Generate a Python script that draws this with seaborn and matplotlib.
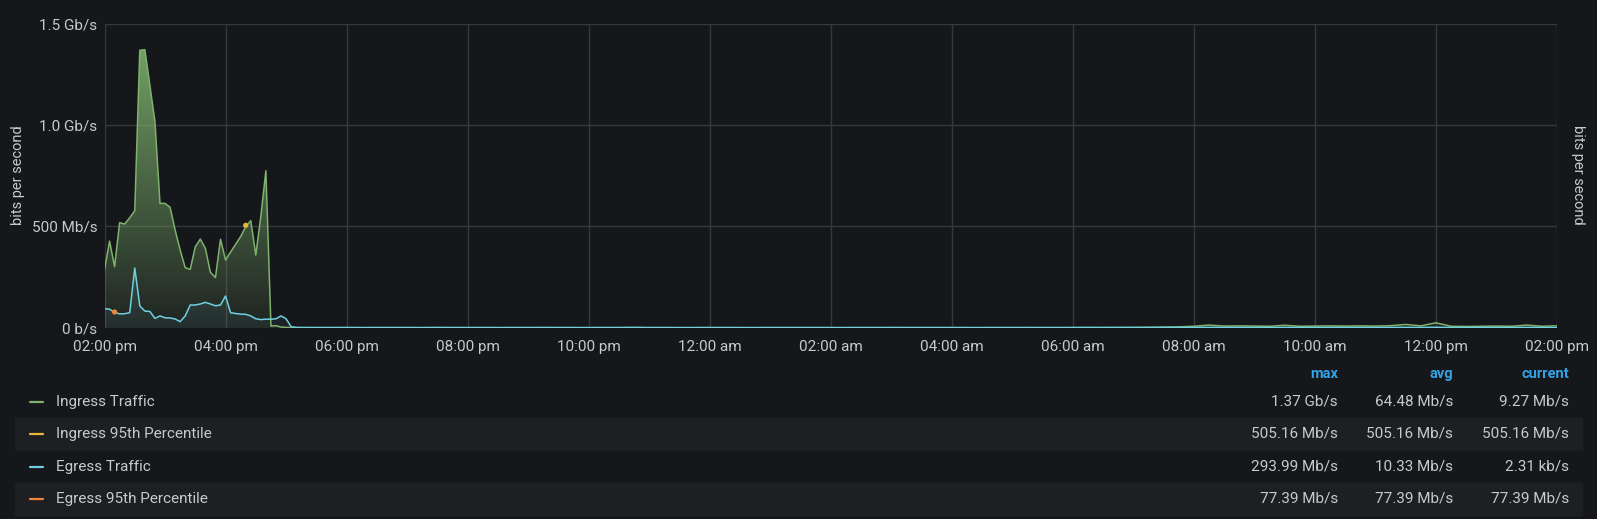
import numpy as np
import pandas as pd
import matplotlib
matplotlib.use("Agg")
import matplotlib.pyplot as plt
from matplotlib.patches import Rectangle
from matplotlib.lines import Line2D
import seaborn as sns

# --- data (Mb/s), first 3h15 sampled every 5 min, rest every 15 min ---
head_minutes = np.arange(0, 200, 5)
ingress_head = [284, 427, 301, 518, 511, 542, 577, 1368, 1371, 1195,
                1016, 613, 613, 594, 482, 383, 296, 288, 399, 437,
                391, 273, 247, 436, 334, 373, 411, 450, 498, 528,
                358, 550, 774, 8, 10, 3, 1.5, 1, 0.8, 0.6]
egress_head = [94, 91, 76, 68, 69, 74, 294, 107, 82, 80,
               46, 58, 49, 48, 43, 30, 58, 112, 112, 117,
               125, 117, 108, 112, 156, 74, 70, 67, 66, 58,
               44, 40, 42, 42, 44, 58, 44, 5, 1, 0.6]

tail_minutes = np.arange(210, 1441, 15)
ingress_tail = [0.6, 0.5, 0.8, 0.4, 0.6, 0.7, 0.5, 0.4, 0.9, 0.6,
                0.5, 0.7, 0.4, 0.6, 0.5, 0.8, 0.6, 0.5, 0.4, 0.7,
                0.6, 1.5, 0.5, 0.6, 0.4, 0.5, 0.7, 0.6, 0.5, 0.4,
                0.6, 0.5, 0.6, 0.7, 0.5, 0.4, 0.6, 0.5, 0.8, 0.6,
                0.5, 0.7, 0.6, 0.5, 0.4, 0.6, 0.5, 0.7, 0.6, 0.5,
                0.8, 1.0, 0.9, 1.2, 1.5, 2.0, 3.0,
                4, 7, 13, 8, 9, 8, 7, 12, 7, 8,
                9, 8, 9, 8, 10, 16, 9, 24, 7, 6,
                7, 8, 7, 13, 7, 9.27]
egress_tail = [0.4, 0.3, 0.5, 0.3, 0.4, 0.3, 0.4, 0.3, 0.5, 0.4,
               0.3, 0.4, 0.3, 0.4, 0.3, 0.5, 0.4, 0.3, 0.3, 0.4,
               0.4, 0.6, 0.3, 0.4, 0.3, 0.3, 0.4, 0.4, 0.3, 0.3,
               0.4, 0.3, 0.4, 0.4, 0.3, 0.3, 0.4, 0.3, 0.5, 0.4,
               0.3, 0.4, 0.4, 0.3, 0.3, 0.4, 0.3, 0.4, 0.4, 0.3,
               0.5, 0.6, 0.5, 0.6, 0.7, 0.8, 1.0,
               1.2, 1.5, 1.8, 1.4, 1.5, 1.3, 1.2, 1.6, 1.2, 1.3,
               1.4, 1.3, 1.4, 1.3, 1.5, 1.8, 1.4, 2.0, 1.2, 1.1,
               1.2, 1.3, 1.2, 1.6, 1.2, 0.0023]

# 95th percentile series only have a single sample each
ingress_p95_minute, ingress_p95 = [140], [505.16]
egress_p95_minute, egress_p95 = [10], [77.39]

x_ticks = list(range(0, 1441, 120))
x_labels = ["02:00 pm", "04:00 pm", "06:00 pm", "08:00 pm", "10:00 pm", "12:00 am",
            "02:00 am", "04:00 am", "06:00 am", "08:00 am", "10:00 am", "12:00 pm", "02:00 pm"]
y_ticks = [0, 500, 1000, 1500]
y_labels = ["0 b/s", "500 Mb/s", "1.0 Gb/s", "1.5 Gb/s"]

series_names = ["Ingress Traffic", "Ingress 95th Percentile", "Egress Traffic", "Egress 95th Percentile"]
series_colors = ["#7eb26d", "#eab839", "#6ed0e0", "#ef843c"]
stat_max = ["1.37 Gb/s", "505.16 Mb/s", "293.99 Mb/s", "77.39 Mb/s"]
stat_avg = ["64.48 Mb/s", "505.16 Mb/s", "10.33 Mb/s", "77.39 Mb/s"]
stat_cur = ["9.27 Mb/s", "505.16 Mb/s", "2.31 kb/s", "77.39 Mb/s"]

BG = "#16171b"
TXT = "#c7c9cc"
GRID = "#37383c"

sns.set_theme(style="dark", rc={"figure.facecolor": BG, "axes.facecolor": BG,
                                "axes.edgecolor": BG, "text.color": TXT,
                                "xtick.color": TXT, "ytick.color": TXT})
plt.rcParams["font.family"] = ["Roboto", "DejaVu Sans"]

minutes = np.concatenate([head_minutes, tail_minutes])
df = pd.DataFrame({
    "minute": np.concatenate([minutes, minutes]),
    "value": np.concatenate([ingress_head, ingress_tail, egress_head, egress_tail]),
    "series": ["Ingress Traffic"] * len(minutes) + ["Egress Traffic"] * len(minutes),
})

W, H = 1597, 519
fig = plt.figure(figsize=(W / 100, H / 100), dpi=100)
ax = fig.add_axes([104.5 / W, 1 - 327.7 / H, (1557 - 104.5) / W, (327.7 - 23.5) / H])

# gradient fills under the traffic series
def gradient_fill(sub, color, a_top, a_bot, top):
    poly = ax.fill_between(sub["minute"], sub["value"], color="none", lw=0)
    rgb = matplotlib.colors.to_rgb(color)
    grad = np.zeros((256, 1, 4))
    grad[:, 0, :3] = rgb
    grad[:, 0, 3] = np.linspace(a_bot, a_top, 256)
    img = ax.imshow(grad, extent=[0, 1440, 0, top], aspect="auto", origin="lower", zorder=1)
    img.set_clip_path(poly.get_paths()[0], transform=ax.transData)

gradient_fill(df[df.series == "Ingress Traffic"], series_colors[0], 0.9, 0.08, 1400)
gradient_fill(df[df.series == "Egress Traffic"], series_colors[2], 0.35, 0.06, 1400)

sns.lineplot(data=df, x="minute", y="value", hue="series",
             palette={"Ingress Traffic": series_colors[0], "Egress Traffic": series_colors[2]},
             linewidth=1.1, legend=False, ax=ax, zorder=3)
sns.scatterplot(x=ingress_p95_minute, y=ingress_p95, color=series_colors[1], s=14,
                edgecolor="none", ax=ax, zorder=4)
sns.scatterplot(x=egress_p95_minute, y=egress_p95, color=series_colors[3], s=14,
                edgecolor="none", ax=ax, zorder=4)

ax.set_xlim(0, 1440)
ax.set_ylim(0, 1500)
ax.set_xticks(x_ticks)
ax.set_xticklabels(x_labels, fontsize=11)
ax.set_yticks(y_ticks)
ax.set_yticklabels(y_labels, fontsize=11)
ax.tick_params(length=0, pad=5)
ax.tick_params(axis="x", pad=9)
ax.grid(True, color=GRID, linewidth=1)
ax.set_xlabel("")
ax.set_ylabel("")
for s in ax.spines.values():
    s.set_visible(False)

fig.text(18 / W, 1 - 175 / H, "bits per second", rotation=90, ha="center", va="center", fontsize=10.5)
fig.text(1578 / W, 1 - 175 / H, "bits per second", rotation=270, ha="center", va="center", fontsize=10.5)

# legend table
col_x = [1338, 1453, 1569]
for cx, head in zip(col_x, ["max", "avg", "current"]):
    fig.text(cx / W, 1 - 374 / H, head, ha="right", va="center", fontsize=10.5,
             fontweight="bold", color="#33a2e5")

row_y = [402, 434, 466.5, 498.5]
for i, ry in enumerate(row_y):
    if i % 2 == 1:
        fig.patches.append(Rectangle((15 / W, 1 - (ry + 16) / H), (1582 - 15) / W, 32 / H,
                                     transform=fig.transFigure, color="#1e1f23", zorder=0))
    fig.lines.append(Line2D([30 / W, 43 / W], [1 - ry / H] * 2, transform=fig.transFigure,
                            color=series_colors[i], linewidth=1.6))
    fig.text(56 / W, 1 - ry / H, series_names[i], ha="left", va="center", fontsize=11)
    for cx, val in zip(col_x, [stat_max[i], stat_avg[i], stat_cur[i]]):
        fig.text(cx / W, 1 - ry / H, val, ha="right", va="center", fontsize=11)

fig.savefig("out.png", dpi=100, facecolor=BG)
